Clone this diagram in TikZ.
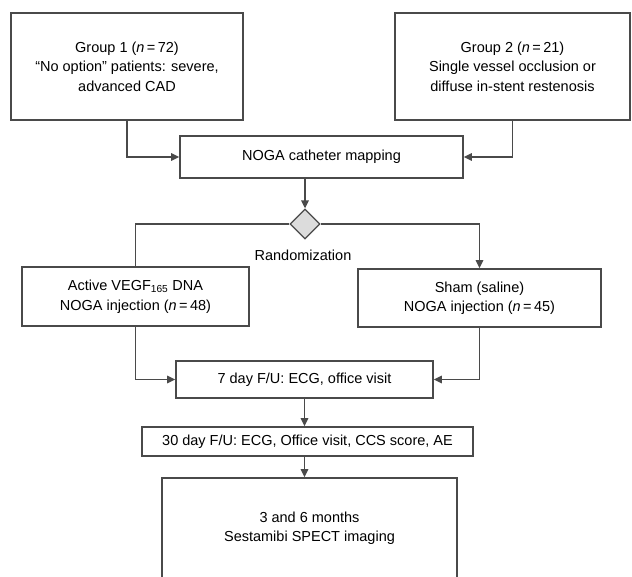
\documentclass[tikz,border=0pt]{standalone}
\usepackage{fontspec}
\setmainfont{Liberation Sans}
\usetikzlibrary{arrows.meta,shapes.geometric}
\definecolor{linegray}{HTML}{4A4A4A}
\definecolor{diagray}{HTML}{DCDCDC}

\begin{document}
\begin{tikzpicture}[x=1pt,y=-1pt,
    box/.style={draw=linegray,line width=1.6pt,align=center,inner sep=0pt,font=\fontsize{14.5}{19.5}\selectfont},
    arr/.style={draw=linegray,line width=1.6pt,-{Triangle[length=8pt,width=7.5pt]}},
    ln/.style={draw=linegray,line width=1.6pt}]
    \useasboundingbox (0,0) rectangle (632,576);
    \clip (0,0) rectangle (632,576);
    \node[box,minimum width=232pt,minimum height=107pt] (grpA) at (127,66.5) {Group 1 (\textit{n}\,=\,72)\\“No option” patients: severe,\\advanced CAD};
    \node[box,minimum width=235pt,minimum height=107pt] (grpB) at (512.5,66.5) {Group 2 (\textit{n}\,=\,21)\\Single vessel occlusion or\\diffuse in-stent restenosis};
    \node[box,minimum width=283pt,minimum height=42pt] (mapping) at (321.5,157) {NOGA catheter mapping};
    \node[diamond,draw=linegray,fill=diagray,line width=1.3pt,minimum size=30pt,inner sep=0pt] (rand) at (305,224) {};
    \node[font=\fontsize{14.5}{19.5}\selectfont] (randlbl) at (303,255) {Randomization};
    \node[box,minimum width=227pt,minimum height=59pt] (active) at (135.5,296.5) {Active VEGF\textsubscript{165} DNA\\NOGA injection (\textit{n}\,=\,48)};
    \node[box,minimum width=243pt,minimum height=58pt] (sham) at (479.5,298) {Sham (saline)\\NOGA injection (\textit{n}\,=\,45)};
    \node[box,minimum width=257pt,minimum height=37pt] (day7) at (304.5,379.5) {7 day F/U: ECG, office visit};
    \node[box,minimum width=331pt,minimum height=29pt] (day30) at (307.5,441.5) {30 day F/U: ECG, Office visit, CCS score, AE};
    \node[box,minimum width=295pt,minimum height=100pt] (spect) at (309.5,528) {3 and 6 months\\Sestamibi SPECT imaging};
    \draw[arr] (grpA.south) |- (mapping.west);
    \draw[arr] (grpB.south) |- (mapping.east);
    \draw[arr] (mapping.south -| rand.north) -- (rand.north);
    \draw[ln] (rand.west) -| (active.north);
    \draw[arr] (rand.east) -| (sham.north);
    \draw[arr] (active.south) |- (day7.west);
    \draw[arr] (sham.south) |- (day7.east);
    \draw[arr] (day7.south) -- (day7.south |- day30.north);
    \draw[arr] (day30.south -| day7.south) -- (spect.north -| day7.south);
\end{tikzpicture}
\end{document}
